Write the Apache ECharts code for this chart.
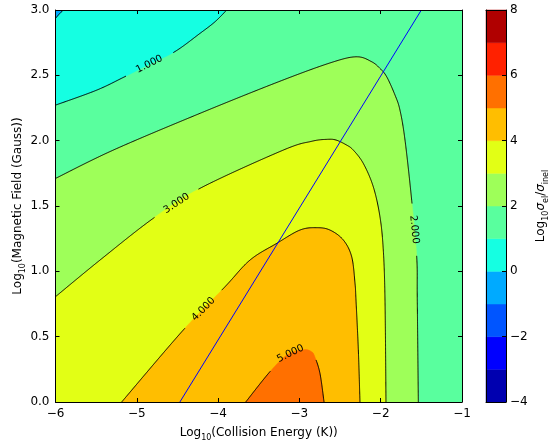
<!DOCTYPE html>
<html>
<head>
<meta charset="utf-8">
<script src="https://cdn.jsdelivr.net/npm/echarts@6/dist/echarts.min.js"></script>
<style>
  html, body { margin: 0; padding: 0; background: #fff; }
  #chart { width: 548px; height: 440px; }
</style>
</head>
<body>
<div id="chart"></div>
<script>
// contour levels and colours of the filled bands
var levels = [-4, -3, -2, -1, 0, 1, 2, 3, 4, 5, 6, 7, 8];
var bandColors = ['#0000b0', '#0000ff', '#0055ff', '#00aaff', '#15ffe2', '#59ff9e',
                  '#9eff59', '#e2ff15', '#ffbe00', '#ff7000', '#ff2100', '#b00000'];
var xTicks = [-6, -5, -4, -3, -2, -1];
var yTicks = [0, 0.5, 1, 1.5, 2, 2.5, 3];
var barTicks = [-4, -2, 0, 2, 4, 6, 8];

// contour lines, [log10 E, log10 B]
var contour0 = [[-6, 2.936], [-5.95, 2.972], [-5.904, 3]];
var contour1 = [[-6, 2.272], [-5.5, 2.385], [-5.166, 2.484], [-4.846, 2.585], [-4.53, 2.682],
                [-4.223, 2.821], [-4.038, 2.91], [-3.894, 3]];
var contour2 = [[-6, 1.711], [-5.289, 1.928], [-4.223, 2.209], [-3.239, 2.455], [-2.603, 2.599],
                [-2.295, 2.642], [-2.111, 2.604], [-2.009, 2.553], [-1.926, 2.489], [-1.824, 2.349],
                [-1.763, 2.234], [-1.701, 2.005], [-1.619, 1.545], [-1.557, 1.112], [-1.55, 0.78],
                [-1.537, 0]];
var contour3 = [[-6, 0.806], [-5.453, 1.086], [-4.797, 1.406], [-4.223, 1.635], [-3.198, 1.928],
                [-2.85, 1.995], [-2.664, 2.01], [-2.55, 2.005], [-2.418, 1.966], [-2.337, 1.928],
                [-2.214, 1.826], [-2.091, 1.647], [-2.009, 1.418], [-1.968, 1.163], [-1.947, 0.78],
                [-1.935, 0]];
var contour4 = [[-5.186, 0], [-4.428, 0.551], [-3.915, 0.882], [-3.608, 1.086], [-3.279, 1.214],
                [-2.993, 1.316], [-2.787, 1.334], [-2.624, 1.316], [-2.46, 1.24], [-2.357, 1.112],
                [-2.316, 0.908], [-2.304, 0.78], [-2.275, 0.398], [-2.255, 0]];
var contour5 = [[-3.66, 0], [-3.362, 0.232], [-3.15, 0.36], [-2.95, 0.4], [-2.85, 0.385],
                [-2.808, 0.342], [-2.747, 0.219], [-2.697, 0]];
// straight blue line
var blueLine = [[-4.47, 0], [-1.5, 3]];

var FONT = 'DejaVu Sans';

// filled regions, painted in order: a contour plus the plot corners that close it
var regions = [
  { curve: [], close: [[-6, 0], [-1, 0], [-1, 3], [-6, 3]], color: bandColors[5] },
  { curve: contour1, close: [[-6, 3]], color: bandColors[4] },
  { curve: contour0, close: [[-6, 3]], color: bandColors[3] },
  { curve: contour2, close: [[-6, 0]], color: bandColors[6] },
  { curve: contour3, close: [[-6, 0]], color: bandColors[7] },
  { curve: contour4, close: [], color: bandColors[8] },
  { curve: contour5, close: [], color: bandColors[9] }
];

var lines = [
  { pts: contour0 },
  { pts: contour1, text: '1.000', at: [-4.846, 2.585] },
  { pts: contour2, text: '2.000', at: [-1.587, 1.32] },
  { pts: contour3, text: '3.000', at: [-4.51, 1.52] },
  { pts: contour4, text: '4.000', at: [-4.18, 0.71] },
  { pts: contour5, text: '5.000', at: [-3.11, 0.37] }
];

function minus(v) { return String(v).replace('-', '\u2212'); }

// Catmull-Rom through the pixel points, so the drawn curves are smooth
function smoothPx(px) {
  if (px.length < 3) return px.slice();
  var out = [];
  for (var i = 0; i < px.length - 1; i++) {
    var p0 = px[Math.max(0, i - 1)], p1 = px[i], p2 = px[i + 1], p3 = px[Math.min(px.length - 1, i + 2)];
    var len = Math.hypot(p2[0] - p1[0], p2[1] - p1[1]);
    var n = Math.max(2, Math.ceil(len / 2));
    for (var k = 0; k < n; k++) {
      var t = k / n, t2 = t * t, t3 = t2 * t;
      var q = [0, 1].map(function (j) {
        return 0.5 * ((2 * p1[j]) + (-p0[j] + p2[j]) * t +
          (2 * p0[j] - 5 * p1[j] + 4 * p2[j] - p3[j]) * t2 +
          (-p0[j] + 3 * p1[j] - 3 * p2[j] + p3[j]) * t3);
      });
      out.push(q);
    }
  }
  out.push(px[px.length - 1]);
  return out;
}

function renderFill(params, api) {
  var r = regions[params.dataIndex];
  var pts = smoothPx(r.curve.map(function (p) { return api.coord(p); }))
    .concat(r.close.map(function (p) { return api.coord(p); }));
  return {
    type: 'polygon',
    shape: { points: pts },
    style: { fill: r.color, stroke: r.color, lineWidth: 0.5 }
  };
}

function renderLine(params, api) {
  var c = lines[params.dataIndex];
  var px = smoothPx(c.pts.map(function (p) { return api.coord(p); }));
  var center = c.at ? api.coord(c.at) : null;
  var gap = 26;
  var runs = [], cur = [];
  var best = 1e9, dir = [1, 0];
  for (var i = 0; i < px.length - 1; i++) {
    var a = px[i], b = px[i + 1];
    var dx = b[0] - a[0], dy = b[1] - a[1];
    var n = Math.max(1, Math.ceil(Math.sqrt(dx * dx + dy * dy)));
    for (var k = 0; k <= n; k++) {
      var q = [a[0] + dx * k / n, a[1] + dy * k / n];
      if (center) {
        var d = Math.hypot(q[0] - center[0], q[1] - center[1]);
        if (d < best) { best = d; dir = [dx, dy]; }
        if (d < gap) {
          if (cur.length > 1) runs.push(cur);
          cur = [];
          continue;
        }
      }
      cur.push(q);
    }
  }
  if (cur.length > 1) runs.push(cur);
  var children = runs.map(function (run) {
    return { type: 'polyline', shape: { points: run }, style: { stroke: '#000', lineWidth: 1, fill: null } };
  });
  if (center) {
    var rot = -Math.atan2(dir[1], dir[0]);
    if (rot > Math.PI / 2) rot -= Math.PI;
    if (rot < -Math.PI / 2) rot += Math.PI;
    children.push({
      type: 'text', x: center[0], y: center[1], rotation: rot,
      style: { text: c.text, fontSize: 10, fontFamily: FONT, fill: '#000', align: 'center', verticalAlign: 'middle' }
    });
  }
  return { type: 'group', children: children };
}

function renderBar(params, api) {
  var i = params.dataIndex;
  var p0 = api.coord([0, levels[i]]);
  var p1 = api.coord([1, levels[i + 1]]);
  return {
    type: 'rect',
    shape: { x: p0[0], y: p1[1], width: p1[0] - p0[0], height: p0[1] - p1[1] },
    style: { fill: bandColors[i], stroke: bandColors[i], lineWidth: 0.5 }
  };
}

var frameLine = { show: true, onZero: false, lineStyle: { color: '#000', width: 1 } };
var inTick = { show: true, inside: true, length: 4, lineStyle: { color: '#000' } };
var tickLabel = { color: '#000', fontSize: 12, fontFamily: FONT };
var subRich = {
  a: { fontSize: 12, fontFamily: FONT, color: '#000', lineHeight: 18 },
  s: { fontSize: 8, fontFamily: FONT, color: '#000', lineHeight: 8, verticalAlign: 'bottom' },
  g: { fontSize: 12, fontFamily: FONT, fontStyle: 'italic', color: '#000', lineHeight: 18 }
};

var myChart = echarts.init(document.getElementById('chart'), null, { renderer: 'canvas' });
var option = {
  animation: false,
  backgroundColor: '#fff',
  grid: [
    { left: 55.5, right: 86, top: 10, bottom: 38, containLabel: false, outerBoundsMode: 'none' },
    { left: 486, width: 20, top: 10, bottom: 38, containLabel: false, outerBoundsMode: 'none' }
  ],
  xAxis: [
    {
      type: 'value', gridIndex: 0, min: -6, max: -1, interval: 1, z: 10,
      axisLine: frameLine, axisTick: inTick, splitLine: { show: false },
      axisLabel: Object.assign({ margin: 6, formatter: function (v) { return minus(v); } }, tickLabel),
      name: '{a|Log}{s|10}{a|(Collision Energy (K))}', nameLocation: 'middle', nameGap: 22,
      nameMoveOverlap: false, nameTextStyle: { rich: subRich }
    },
    {
      type: 'value', gridIndex: 0, position: 'top', min: -6, max: -1, interval: 1, z: 10,
      axisLine: frameLine, axisTick: inTick, axisLabel: { show: false }, splitLine: { show: false }
    },
    {
      type: 'value', gridIndex: 1, min: 0, max: 1, z: 10,
      axisLine: frameLine, axisTick: { show: false }, axisLabel: { show: false }, splitLine: { show: false }
    },
    {
      type: 'value', gridIndex: 1, position: 'top', min: 0, max: 1, z: 10,
      axisLine: frameLine, axisTick: { show: false }, axisLabel: { show: false }, splitLine: { show: false }
    }
  ],
  yAxis: [
    {
      type: 'value', gridIndex: 0, min: 0, max: 3, interval: 0.5, z: 10,
      axisLine: frameLine, axisTick: inTick, splitLine: { show: false },
      axisLabel: Object.assign({ margin: 6, formatter: function (v) { return v.toFixed(1); } }, tickLabel),
      name: '{a|Log}{s|10}{a|(Magnetic Field (Gauss))}', nameLocation: 'middle', nameGap: 29,
      nameMoveOverlap: false, nameTextStyle: { rich: subRich }
    },
    {
      type: 'value', gridIndex: 0, position: 'right', min: 0, max: 3, interval: 0.5, z: 10,
      axisLine: frameLine, axisTick: inTick, axisLabel: { show: false }, splitLine: { show: false }
    },
    {
      type: 'value', gridIndex: 1, position: 'left', min: -4, max: 8, z: 10,
      axisLine: frameLine, axisTick: { show: false }, axisLabel: { show: false }, splitLine: { show: false }
    },
    {
      type: 'value', gridIndex: 1, position: 'right', min: -4, max: 8, interval: 2, z: 10,
      axisLine: frameLine, axisTick: inTick, splitLine: { show: false },
      axisLabel: Object.assign({ margin: 4, formatter: function (v) { return minus(v); } }, tickLabel),
      name: '{a|Log}{s|10}{g|\u03c3}{s|el}{a|/}{g|\u03c3}{s|inel}', nameLocation: 'middle', nameGap: 26,
      nameRotate: 90, nameTextStyle: { rich: subRich }
    }
  ],
  series: [
    {
      type: 'custom', xAxisIndex: 0, yAxisIndex: 0, clip: true, silent: true, z: 1,
      renderItem: renderFill,
      data: regions.map(function () { return [-6, 0]; })
    },
    {
      type: 'custom', xAxisIndex: 0, yAxisIndex: 0, clip: true, silent: true, z: 3,
      renderItem: renderLine,
      data: lines.map(function () { return [-6, 0]; })
    },
    {
      type: 'line', xAxisIndex: 0, yAxisIndex: 0, data: blueLine, symbol: 'none', silent: true, z: 4,
      lineStyle: { color: '#0000ff', width: 1 }
    },
    {
      type: 'custom', xAxisIndex: 2, yAxisIndex: 3, silent: true, z: 1,
      renderItem: renderBar,
      data: bandColors.map(function () { return [0, -4]; })
    }
  ]
};
myChart.setOption(option);
window.addEventListener('resize', function () {
  myChart.resize();
});
</script>
</body>
</html>
